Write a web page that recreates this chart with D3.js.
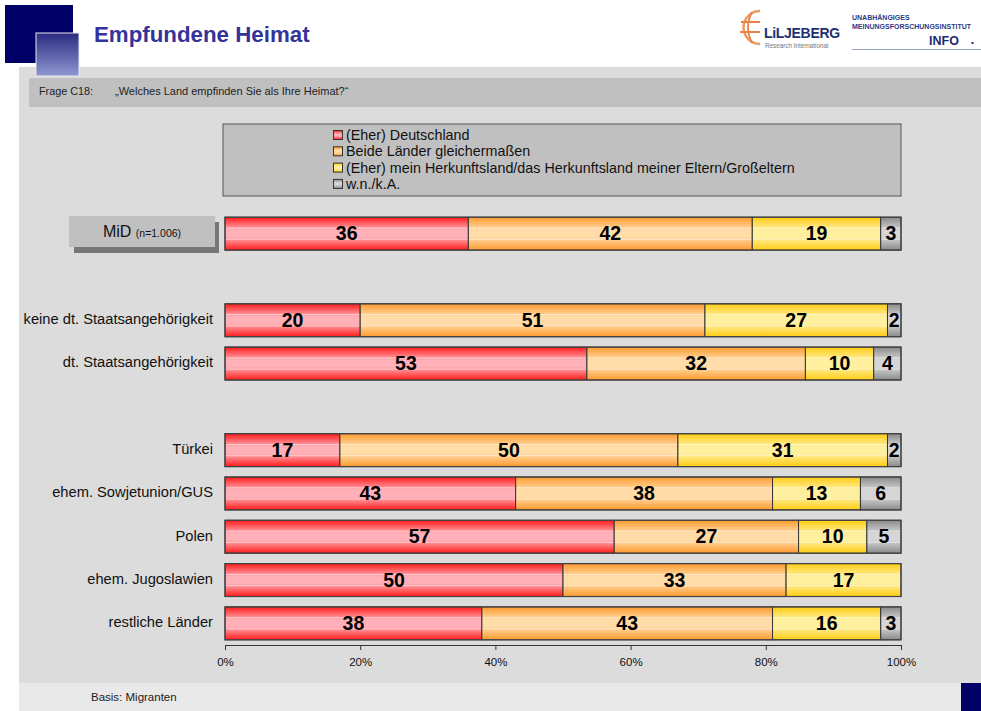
<!DOCTYPE html>
<html><head><meta charset="utf-8">
<script src="https://cdn.jsdelivr.net/npm/d3@7"></script>
<style>
html,body{margin:0;padding:0;background:#fff;}
svg{display:block;font-family:"Liberation Sans",Arial,sans-serif;}
</style></head>
<body><svg id="c" width="981" height="711"></svg>
<script>
// ---- data ----
const categories = ["MiD","keine dt. Staatsangehörigkeit","dt. Staatsangehörigkeit","Türkei","ehem. Sowjetunion/GUS","Polen","ehem. Jugoslawien","restliche Länder"];
const slots = ["MiD","_gap1","keine dt. Staatsangehörigkeit","dt. Staatsangehörigkeit","_gap2","Türkei","ehem. Sowjetunion/GUS","Polen","ehem. Jugoslawien","restliche Länder"];
const seriesNames = ["(Eher) Deutschland","Beide Länder gleichermaßen","(Eher) mein Herkunftsland/das Herkunftsland meiner Eltern/Großeltern","w.n./k.A."];
const deutschland = [36,20,53,17,43,57,50,38];
const beide       = [42,51,32,50,38,27,33,43];
const herkunft    = [19,27,10,31,13,10,17,16];
const wnka        = [3,2,4,2,6,5,0,3];
const tickValues = [0,0.2,0.4,0.6,0.8,1];
const title = "Empfundene Heimat";
const question = "„Welches Land empfinden Sie als Ihre Heimat?“";

const svg = d3.select("#c");
const defs = svg.append("defs");

// gradients
const grads = [
  {id:"g0", edge:"#ff1a1a", mid:"#ffb0b8"},
  {id:"g1", edge:"#ff9a2e", mid:"#ffdca8"},
  {id:"g2", edge:"#ffcc11", mid:"#fff0a0"},
  {id:"g3", edge:"#8a8a8a", mid:"#d6d6d6"}
];
grads.forEach(g=>{
  const lg = defs.append("linearGradient").attr("id",g.id).attr("x1",0).attr("y1",0).attr("x2",0).attr("y2",1);
  lg.append("stop").attr("offset","0%").attr("stop-color",g.edge);
  lg.append("stop").attr("offset","40%").attr("stop-color",g.mid);
  lg.append("stop").attr("offset","60%").attr("stop-color",g.mid);
  lg.append("stop").attr("offset","100%").attr("stop-color",g.edge);
});
const sq = defs.append("linearGradient").attr("id","sq").attr("x1",0).attr("y1",0).attr("x2",0).attr("y2",1);
sq.append("stop").attr("offset","0%").attr("stop-color","#2a2a80");
sq.append("stop").attr("offset","100%").attr("stop-color","#8f98d2");

// ---- page background ----
svg.append("rect").attr("x",19).attr("y",67).attr("width",962).attr("height",616).attr("fill","#dcdcdc");
svg.append("rect").attr("x",19).attr("y",683).attr("width",962).attr("height",28).attr("fill","#e9e9e9");
svg.append("rect").attr("x",29).attr("y",78).attr("width",952).attr("height",29).attr("fill","#c0c0c0");
svg.append("rect").attr("x",961).attr("y",683).attr("width",20).attr("height",28).attr("fill","#000066");
svg.append("rect").attr("x",5).attr("y",5).attr("width",68).attr("height",58).attr("fill","#000066");
svg.append("rect").attr("x",36).attr("y",33).attr("width",43).attr("height",43).attr("fill","url(#sq)").attr("stroke","#e8e8f0").attr("stroke-width",1);

svg.append("text").attr("x",94).attr("y",42).attr("font-size",22.3).attr("font-weight","bold").attr("fill","#333399").text(title);
svg.append("text").attr("x",39).attr("y",95).attr("font-size",10.8).attr("fill","#222").text("Frage C18:");
svg.append("text").attr("x",115).attr("y",95).attr("font-size",11).attr("fill","#222").text(question);
svg.append("text").attr("x",91).attr("y",701).attr("font-size",11.5).attr("fill","#222").text("Basis: Migranten");

// logos
const lg1 = svg.append("g");
lg1.append("path").attr("d","M760,11 A16,16 0 1 0 760,44").attr("fill","none").attr("stroke","#f09a60").attr("stroke-width",2.5);
lg1.append("path").attr("d","M752,12 Q744,27 752,43 M741,22 L760,22 M740,32 L760,32").attr("fill","none").attr("stroke","#e8804a").attr("stroke-width",1.8);
lg1.append("text").attr("x",764).attr("y",38).attr("font-size",14).attr("font-weight","bold").attr("fill","#1f3070").attr("letter-spacing",-0.3).text("LiLJEBERG");
lg1.append("text").attr("x",765).attr("y",48).attr("font-size",6.3).attr("fill","#777").text("Research International");
const lg2 = svg.append("g");
lg2.append("text").attr("x",852).attr("y",20).attr("font-size",7).attr("font-weight","bold").attr("fill","#2a3c8a").text("UNABHÄNGIGES");
lg2.append("text").attr("x",852).attr("y",28.5).attr("font-size",7).attr("font-weight","bold").attr("fill","#2a3c8a").text("MEINUNGSFORSCHUNGSINSTITUT");
lg2.append("text").attr("x",929).attr("y",45).attr("font-size",12.5).attr("font-weight","bold").attr("fill","#1f2a70").text("INFO");
lg2.append("text").attr("x",971).attr("y",45).attr("font-size",8).attr("font-weight","bold").attr("fill","#1f2a70").text("•");
lg2.append("line").attr("x1",852).attr("x2",981).attr("y1",49.5).attr("y2",49.5).attr("stroke","#9aa4c8").attr("stroke-width",1);

// ---- scales ----
const x = d3.scaleLinear().domain([0,1]).range([225,901]);
const y = d3.scaleBand().domain(slots).range([212,645]).paddingInner(0.24).paddingOuter(0.12);

const rows = categories.map((c,i)=>({cat:c, s0:deutschland[i], s1:beide[i], s2:herkunft[i], s3:wnka[i]}));
const stack = d3.stack().keys(["s0","s1","s2","s3"]).offset(d3.stackOffsetExpand);
const stacked = stack(rows);

// legend
const lgBox = svg.append("g");
lgBox.append("rect").attr("x",223).attr("y",124).attr("width",678).attr("height",72).attr("fill","#c0c0c0").attr("stroke","#555").attr("stroke-width",1);
seriesNames.forEach((n,i)=>{
  const yy = 130 + i*16.3;
  lgBox.append("rect").attr("x",333.5).attr("y",yy+0.5).attr("width",9).attr("height",9).attr("fill",`url(#g${i})`).attr("stroke","#333").attr("stroke-width",1);
  lgBox.append("text").attr("x",346).attr("y",yy+10).attr("font-size",14.3).attr("fill","#111").attr("letter-spacing",0.02).text(n);
});

// bars
stacked.forEach((layer,k)=>{
  const g = svg.append("g");
  layer.forEach(d=>{
    const v = d.data["s"+k];
    if(!v) return;
    const x0 = x(d[0]), x1 = x(d[1]), yy = y(d.data.cat), h = y.bandwidth();
    g.append("rect").attr("x",x0).attr("y",yy).attr("width",x1-x0).attr("height",h)
      .attr("fill",`url(#g${k})`).attr("stroke","#333").attr("stroke-width",1);
    [0.33,0.67].forEach(f=>g.append("line").attr("x1",x0+1).attr("x2",x1-1).attr("y1",yy+h*f).attr("y2",yy+h*f).attr("stroke","#fff").attr("stroke-opacity",0.55).attr("stroke-width",1));
    g.append("text").attr("x",(x0+x1)/2).attr("y",yy+h/2+1.5).attr("text-anchor","middle").attr("dominant-baseline","middle")
      .attr("font-size",19.5).attr("font-weight","bold").attr("fill","#000").text(v);
  });
});
// bar outline
rows.forEach(r=>{
  svg.append("rect").attr("x",x(0)).attr("y",y(r.cat)).attr("width",x(1)-x(0)).attr("height",y.bandwidth())
    .attr("fill","none").attr("stroke","#444").attr("stroke-width",1.2);
});

// category labels
categories.forEach(c=>{
  const yc = y(c)+y.bandwidth()/2;
  if(c==="MiD"){
    svg.append("rect").attr("x",74).attr("y",222).attr("width",145).attr("height",31).attr("fill","#777");
    svg.append("rect").attr("x",69).attr("y",216).attr("width",146).attr("height",31).attr("fill","#c0c0c0");
    const t = svg.append("text").attr("x",142).attr("y",yc+3).attr("text-anchor","middle").attr("fill","#111");
    t.append("tspan").attr("font-size",16).text("MiD ");
    t.append("tspan").attr("font-size",10.5).text("(n=1.006)");
  } else {
    svg.append("text").attr("x",213).attr("y",yc).attr("text-anchor","end").attr("dominant-baseline","middle")
      .attr("font-size",14.7).attr("fill","#111").text(c);
  }
});

// axis
const axis = d3.axisBottom(x).tickValues(tickValues).tickFormat(d3.format(".0%")).tickSize(5).tickSizeOuter(5);
const ag = svg.append("g").attr("transform","translate(0,645)").call(axis);
ag.select(".domain").attr("stroke","#333");
ag.selectAll(".tick line").attr("stroke","#333");
ag.selectAll(".tick text").attr("font-size",11.5).attr("fill","#111").attr("dy","1.1em").attr("font-family","Liberation Sans, Arial, sans-serif");
</script></body></html>
